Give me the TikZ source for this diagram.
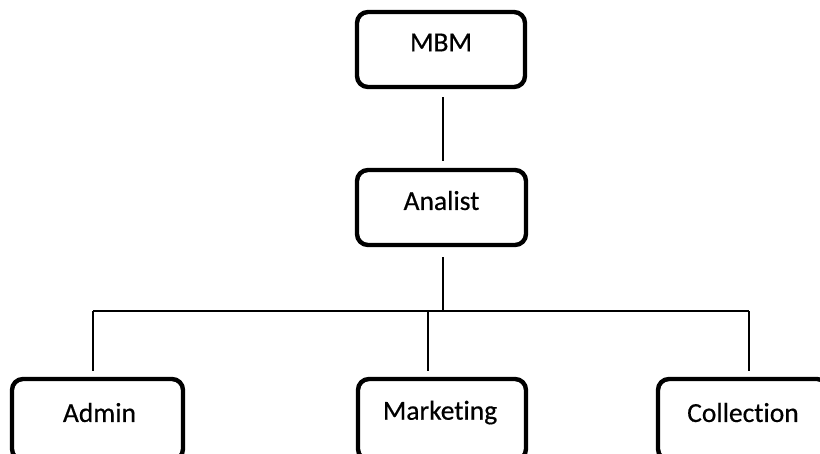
\documentclass[tikz,border=0pt]{standalone}
\usepackage{fontspec}
\setmainfont[Ligatures={NoCommon},FakeBold=0.5]{Carlito}
\begin{document}
\begin{tikzpicture}[x=1pt,y=-1pt,
  box/.style={draw=black, line width=4.4pt, rounded corners=11pt, fill=white},
  lbl/.style={font=\fontsize{27.5}{32}\selectfont, inner sep=0pt},
  wire/.style={draw=black, line width=1.3pt}]
  \clip (0,0) rectangle (820,453);
  \fill[white] (0,0) rectangle (820,453);

  % boxes
  \node[box, minimum width=168pt, minimum height=75pt] (mbm) at (441,49.5) {};
  \node[box, minimum width=169pt, minimum height=75pt] (analist) at (441.5,207.5) {};
  \node[box, minimum width=171pt, minimum height=81pt] (admin) at (97.5,419.5) {};
  \node[box, minimum width=168pt, minimum height=81pt] (marketing) at (442,419.5) {};
  \node[box, minimum width=170pt, minimum height=81pt] (collection) at (743,419.5) {};

  % labels
  \node[lbl] at ([yshift=7pt]mbm.center) {MBM};
  \node[lbl] at ([yshift=7pt]analist.center) {Analist};
  \node[lbl] at ([xshift=2pt,yshift=7pt]admin.center) {Admin};
  \node[lbl] at ([xshift=-2pt,yshift=7pt]marketing.center) {Marketing};
  \node[lbl] at ([yshift=7pt]collection.center) {Collection};

  % junctions of the tree
  \coordinate (j)  at (443,311);
  \coordinate (ja) at (93,311);
  \coordinate (jm) at (428,311);
  \coordinate (jc) at (749,311);

  % connectors
  \draw[wire, shorten <=8pt, shorten >=7pt] ([xshift=2pt]mbm.south) -- ([xshift=1.5pt]analist.north);
  \draw[wire, shorten <=10pt] ([xshift=1.5pt]analist.south) -- (j);
  \draw[wire] (ja) -- (jc);
  \draw[wire, shorten >=6pt] (ja) -- (ja |- admin.north);
  \draw[wire, shorten >=6pt] (jm) -- (jm |- marketing.north);
  \draw[wire, shorten >=6pt] (jc) -- (jc |- collection.north);
\end{tikzpicture}
\end{document}
